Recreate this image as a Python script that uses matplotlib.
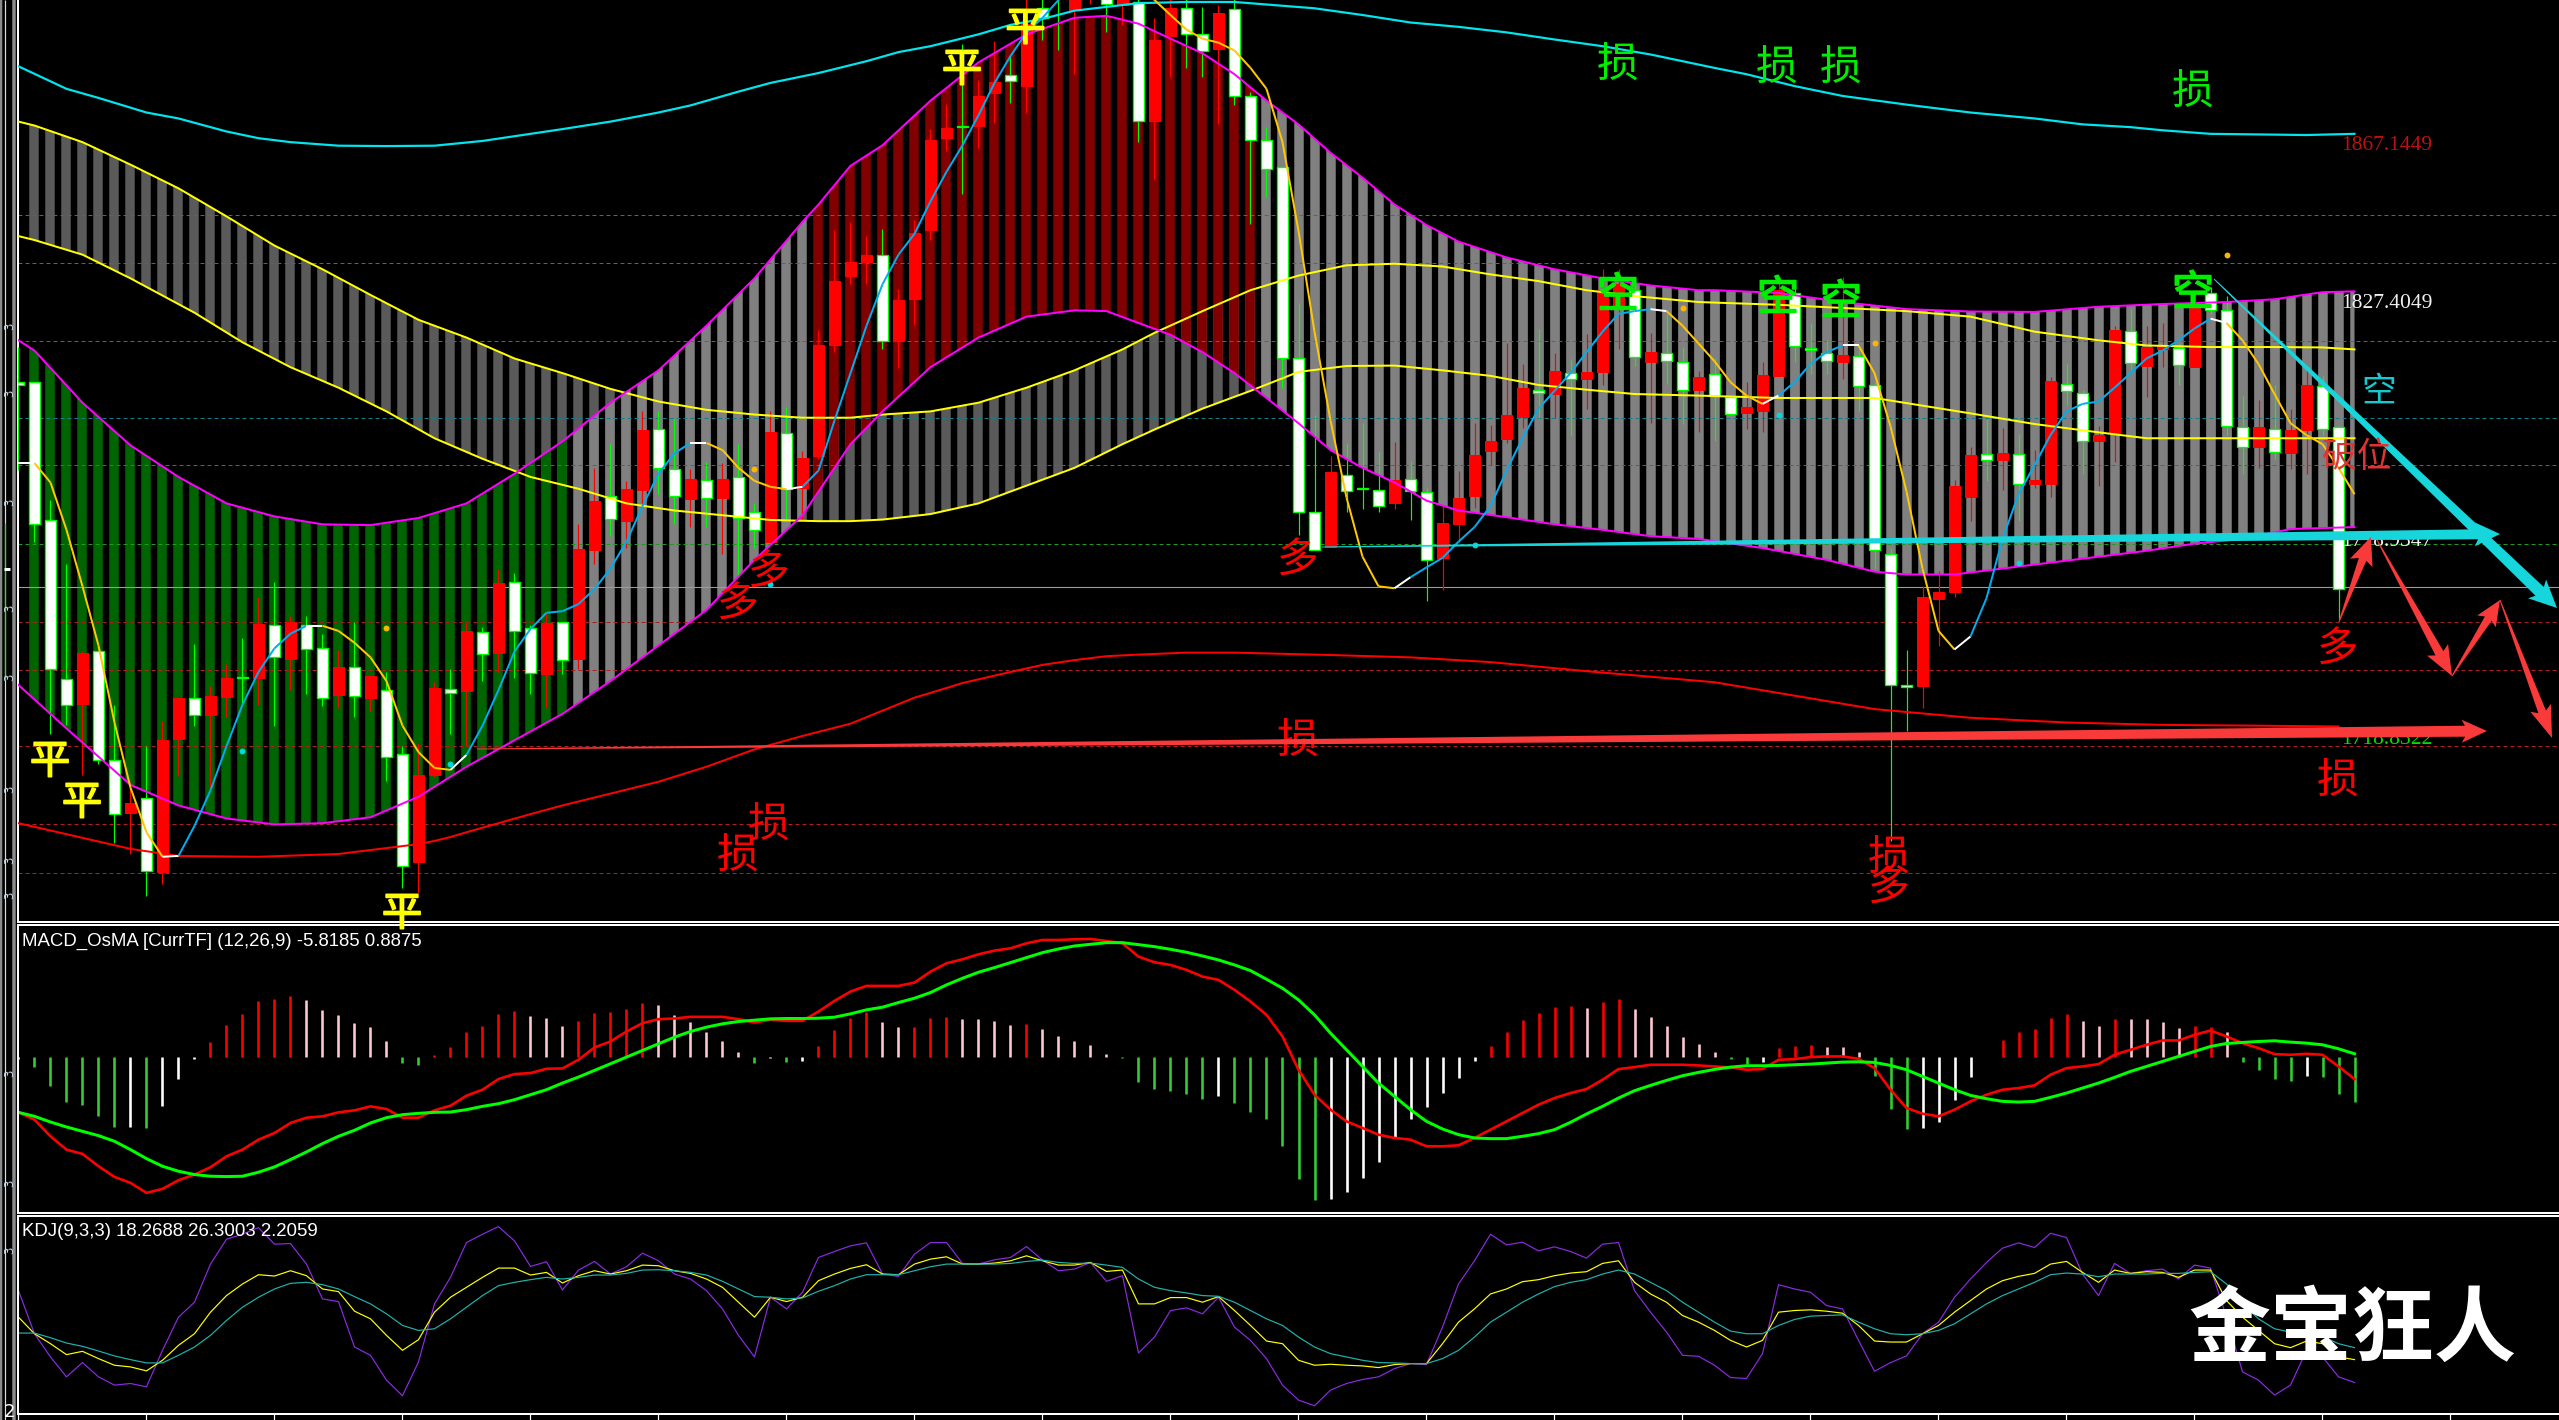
import numpy as np
import matplotlib
matplotlib.use("Agg")
import matplotlib.pyplot as plt
import matplotlib.patheffects as pe
from matplotlib.collections import LineCollection
from matplotlib.patches import Polygon

plt.rcParams['font.family'] = ['Noto Sans CJK SC', 'DejaVu Sans']

# ---------------- candles (bar -1 .. 144) ----------------
opens = [1804.2,1804.3,1769.3,1729.1,1722.7,1736,1708.4,1695.1,1698.8,1680.2,1713.8,1724.3,1720,1724.5,1729.6,1729.3,1742.8,1734,1742.8,1736.8,1725,1732.1,1724.2,1726.3,1709.9,1682.6,1704.8,1726.6,1726,1741,1735.6,1753.7,1742,1730.2,1743.5,1734,1761.8,1775.3,1769,1776.8,1792.4,1782.2,1774.7,1779.5,1774.9,1780.3,1771.3,1763.6,1791.4,1777.3,1785.5,1813.7,1831.1,1834.6,1836.4,1814.6,1825.3,1842.8,1866,1869,1869.2,1877.5,1882,1879.3,1899,1908,1898.5,1904,1903,1899.8,1900.5,1870.4,1892,1899,1892.5,1888.6,1898.8,1876.7,1865.5,1858.6,1810.4,1771.4,1762.4,1780.7,1777.4,1777,1773.7,1779.7,1776.5,1759.7,1768.3,1775.3,1786.7,1789.9,1795.3,1802.3,1801.3,1806.4,1805,1806.8,1823.6,1827.5,1809.2,1811.6,1809.4,1802.3,1806.2,1800.4,1796.3,1796.8,1805.8,1826.8,1812.8,1811.6,1809.4,1810.9,1803.4,1760.8,1727.6,1727.2,1749.4,1751,1775,1786,1784.5,1786.1,1778.5,1778.3,1803.8,1801.4,1789.4,1791.4,1817.2,1808.3,1812.5,1812.8,1808,1826.9,1822.4,1792.9,1787.8,1792.4,1786.3,1792,1803.2,1792.9]
closes = [1803.6,1768.4,1731.5,1722.4,1735.7,1708.4,1694.8,1697.5,1680.5,1713.5,1724.3,1719.8,1724.6,1729.4,1729.3,1742.9,1734.5,1743.5,1736.5,1724.3,1732.1,1724.6,1729.7,1709.3,1681.7,1704.8,1726.7,1725.5,1741.1,1735.4,1753.4,1741.3,1730.6,1743.2,1733.8,1762,1774.1,1769.6,1777.1,1792,1782.5,1775.3,1779.8,1774.9,1779.8,1769.8,1766.8,1791.5,1777.1,1784.9,1813.7,1829.8,1834.6,1836.5,1814.6,1825.1,1842,1865.6,1868.6,1868.8,1876.7,1880.3,1880.5,1895,1896.5,1902,1905,1912,1900.1,1904,1870.3,1890.8,1899,1892.5,1888,1897.7,1876.6,1865.5,1858.1,1810.4,1771.4,1761.8,1781.5,1776.7,1777.1,1772.9,1779.4,1776.7,1759.1,1768.6,1774.9,1785.7,1789.4,1796,1802.6,1801.4,1807,1805,1806.7,1827.5,1829,1810.6,1811.8,1809.5,1802.3,1805.6,1800.8,1796.2,1798,1805.9,1827.5,1813.3,1812.4,1809.5,1811,1803.2,1761.8,1727.5,1727,1749.8,1751,1778,1785.8,1784.6,1786.3,1778.5,1779.5,1804.4,1801.9,1789.3,1790.8,1817.3,1809,1813,1813.6,1808.5,1823,1822.6,1793,1787.9,1792.9,1786.4,1792.1,1803.5,1792.4,1751.8]
highs = [1813,1804.3,1774.3,1758.2,1736,1736,1722.5,1703,1712,1718.3,1724.3,1737.8,1727.3,1732.7,1739.3,1749.8,1753.7,1745,1745,1740.5,1736.3,1743.5,1730,1730.8,1712,1712.8,1728.2,1731.5,1743.5,1742.3,1757,1755.8,1742.8,1745.8,1743.5,1768.3,1782.5,1788.5,1779.2,1796.8,1796.8,1794.8,1782.2,1784,1783.7,1788.5,1773.5,1796.8,1797.8,1786.7,1817.3,1842.8,1844.8,1841.3,1843.1,1827.9,1845.2,1868.3,1874.6,1889.8,1880.8,1890.5,1887,1903,1903,1910,1910,1914,1905,1905,1906,1896.5,1903,1903,1899.2,1899.8,1902,1877.8,1868.8,1858.6,1824.2,1796,1785.5,1788.8,1793.8,1786.7,1789,1784.3,1777.3,1772.8,1781.8,1793.8,1793.3,1814,1808.8,1817.6,1811.5,1810,1816.3,1832.8,1832.8,1829,1816.6,1821.5,1813,1807,1810.3,1800.4,1804.3,1809.2,1830.5,1829,1819.3,1814.8,1830.8,1812.5,1804.3,1762.3,1736.3,1752.5,1756.3,1779.5,1787.8,1794.8,1792.7,1791.2,1787,1805.6,1808.8,1802.3,1793,1818.5,1822.7,1818.5,1819.3,1814,1827.5,1828.3,1826,1800.8,1799.8,1803.5,1797.5,1808,1805.8,1793]
lows = [1782,1763.8,1715,1717.3,1704.8,1707.5,1687.6,1684.7,1674,1677.2,1704.5,1717.1,1701.5,1719.5,1722.5,1722.5,1717.1,1726.3,1725.2,1722.2,1721.8,1719.5,1721,1703.3,1676,1674.8,1704.2,1715,1712,1728.5,1730.8,1729.3,1725.2,1721.6,1730.3,1731.5,1758.2,1765.3,1762.3,1772.8,1775.8,1768.3,1767.5,1767.5,1760.8,1754.8,1762.3,1763.6,1769,1769,1784.8,1811.8,1829,1829,1812.5,1807.7,1818.8,1840.3,1862.8,1851.8,1863.5,1869.8,1874.9,1872.5,1890.8,1888.3,1882.3,1900,1892.8,1894.7,1865,1855.7,1881.5,1883.8,1881.5,1869.5,1874.3,1844.3,1851,1802.8,1765.6,1761.8,1762.4,1771.3,1772,1771.3,1772,1769.3,1748.8,1751.5,1763.8,1772.3,1783.3,1788.8,1792.7,1795.1,1795.1,1790.6,1797.5,1803.5,1812.5,1808.3,1793.8,1803.8,1793.6,1791.5,1789.3,1796,1792.3,1791.5,1805.8,1809.2,1806.2,1806.2,1805,1796.8,1757,1688,1715.8,1721.8,1737.5,1749.8,1769,1779.2,1776.8,1769,1777.3,1775,1798.3,1781,1778,1784,1807.3,1800.5,1808,1803.5,1808,1821.5,1790.8,1781,1782.5,1784.8,1782.2,1781,1790.8,1744.3]

# ---------------- channel lines on the price scale ----------------
yellow_up_bars = [-1,0,3,6,9,12,15,18,21,24,27,30,33,36,39,42,45,48,51,53,56,59,62,65,68,70,73,76,79,82,85,88,91,94,97,100,104,109,113,117,121,125,129,132,136,140,143,145]
yellow_up = [1870.2,1869.2,1865,1859.3,1853.3,1846.2,1838.8,1832.8,1826.3,1820,1815.5,1810.2,1806.5,1802.5,1799.3,1797.2,1796,1795.2,1795.2,1796,1796.8,1799,1802.8,1807.2,1812.5,1816.7,1822.2,1827.5,1831.2,1833.8,1834.2,1833.5,1831.5,1829.8,1827.5,1826,1824.5,1823.8,1823,1822.2,1820.8,1817,1814.8,1813.5,1813.1,1813.1,1813,1812.5]
yellow_lo_bars = [-1,0,3,6,10,13,16,19,22,25,28,31,34,37,40,43,46,49,51,53,56,59,62,65,68,70,73,76,79,82,85,88,91,94,97,100,104,109,115,121,125,129,132,136,140,145]
yellow_lo = [1841.2,1840.2,1836.5,1830.5,1821.8,1814.3,1808,1802.8,1796.8,1790,1784.8,1780.2,1777.2,1773.5,1771.7,1770.5,1769.3,1769,1769,1769.4,1770.8,1773.5,1778,1782.5,1788.5,1792.2,1797.5,1802,1806.8,1808.3,1808.4,1807.2,1805.8,1803.5,1802.3,1801.2,1800.8,1800.2,1800.2,1796.3,1793.6,1791.5,1790,1790,1790,1790]
magenta_up_bars = [-1,0,3,6,9,12,15,18,21,24,27,30,33,36,39,42,45,48,49,51,53,56,59,62,65,67,69,71,73,75,77,79,81,83,85,87,89,92,95,98,101,104,105,109,113,117,121,125,129,133,137,140,143,145]
magenta_up = [1814.8,1812.2,1799,1788.2,1780.2,1773.5,1770.2,1768.2,1768,1769.8,1773.5,1781,1789.2,1799,1807.2,1818.5,1830.5,1844.8,1849.2,1859,1864.2,1875.5,1885.2,1892.3,1896.5,1897,1895,1891.2,1887.5,1882.2,1875.5,1869.5,1862.3,1856,1849.2,1844,1839.8,1835.8,1832.8,1830.5,1828.7,1827.5,1827.5,1826.8,1824.5,1822.7,1822.1,1822,1823.3,1824,1824.5,1825.2,1827,1827.2]
magenta_lo_bars = [-1,2,6,9,12,15,18,21,24,27,30,33,36,39,42,45,48,51,53,56,59,62,65,67,69,71,73,75,77,79,81,83,85,87,89,92,95,98,101,104,108,112,115,117,120,123,126,129,132,135,138,141,145]
magenta_lo = [1727.5,1716.5,1702.2,1697,1693.7,1692.2,1692.5,1694,1699.2,1706.8,1713.5,1720.2,1728.5,1737.5,1746.5,1759.2,1770.5,1788.5,1796.8,1808,1815.5,1820.8,1822.4,1822.2,1819.2,1816.2,1811.8,1806.5,1800.2,1793.8,1787,1782.5,1778.8,1774.2,1771.7,1770,1768.2,1766.8,1765.2,1764.5,1762.2,1759.2,1756.2,1755.5,1755.5,1757,1758.5,1760,1761.5,1763.3,1764.5,1767,1767.5]
red_ma_bars = [-1,6,9,14,19,24,25,26,27,29,31,33,36,39,42,45,48,51,53,55,56,58,61,63,65,67,69,72,75,81,86,91,97,105,110,115,121,127,133,139,144]
red_ma = [1692.5,1686,1684.2,1684,1684.7,1687.2,1688,1689,1690.2,1692.5,1694.8,1697,1700,1703,1706.8,1711.2,1714.6,1717.7,1721,1724.3,1725.5,1728,1730.8,1732.6,1733.8,1734.8,1735.2,1735.7,1735.7,1735.1,1734.5,1733.3,1731,1728.2,1724.8,1721.4,1719.2,1718,1717.4,1717.2,1717]
cyan_ma_bars = [-1,2,4,7,9,12,14,16,19,22,25,28,30,33,36,39,41,44,46,49,52,54,56,59,61,63,65,69,72,75,80,83,86,89,92,95,98,101,105,107,110,113,117,121,125,128,131,133,136,142,145]
cyan_ma = [1884.2,1878.5,1876.2,1872.5,1871,1867.7,1866,1865,1864.1,1864,1864.1,1865.3,1866.5,1868.3,1870.2,1872.5,1874.3,1877.8,1880,1882.5,1885.5,1887.8,1889.3,1892.3,1894.7,1896.2,1898.3,1900.2,1900.5,1900.5,1898.9,1897.2,1895.3,1894.2,1892.8,1891,1889.3,1887.2,1883.8,1882.2,1879.2,1876.7,1874.5,1872.5,1871,1869.5,1868.8,1868,1867.1,1866.8,1867.1]
# fast line, bar -1 .. 145
fast_ma = [1783.7,1783.7,1778.8,1766.8,1752.5,1737.5,1718,1701.5,1690.2,1684,1684.2,1691.8,1700.8,1712,1722.5,1730.8,1736.8,1740.5,1742.5,1742.5,1741.2,1738.2,1734.5,1728.5,1717.2,1710.5,1706.5,1706,1709.8,1717.2,1726.2,1736,1741.7,1745.8,1746.2,1748,1751.8,1757,1763.8,1772.8,1781,1786.2,1788.8,1788.8,1787,1782.5,1779.2,1777.7,1777.1,1777.7,1781.8,1794.5,1806.5,1818.5,1829,1836.5,1841.8,1850,1857.5,1864.2,1871.8,1880,1886.8,1892.8,1896.5,1901,1904,1907,1908.5,1907,1904,1901,1897.2,1893.5,1891.2,1890.2,1888.2,1883.8,1878.5,1865,1842.5,1817,1794.5,1775,1760,1752.5,1752,1754.8,1757.3,1759.7,1763.8,1767.5,1772.8,1781.8,1790,1797.5,1802,1806.5,1811.8,1817,1821.5,1822.2,1822.7,1822.2,1818.5,1814,1809.5,1804.2,1800.8,1798.7,1800.8,1804.2,1808.8,1811.8,1813.5,1813.5,1806.5,1793,1776.5,1757,1741.2,1736.5,1739.8,1749.5,1764.5,1775.8,1783.2,1790.8,1796.8,1798.7,1799.3,1802.8,1806.5,1810.2,1812.2,1814.8,1817.8,1820.3,1819.2,1814.8,1808.8,1801.2,1793.8,1790.8,1788.5,1782.5,1775.8]
orange_dot_bars = [22,45,103,115,137]
orange_dots = [1742,1782.2,1823,1814,1836.5]
cyan_dot_bars = [13,26,46,90,109,124]
cyan_dots = [1710.8,1707.5,1753.2,1763,1796,1758.5]
grid_levels = [1846.5,1834.4,1814.6,1795.2,1783.1,1763.3,1743.5,1731.4,1712,1692.2,1680]
grid_colors = ['#1a7f7f','#1a7f7f','#1a7f7f','#117f8a','#117f8a','#1f9a1f','#a02020','#b02020','#b02020','#b02020','#b02020']
bid_level = 1752.2

# ---------------- MACD panel ----------------
osma = [-0.5,-2.8,-8.7,-13.5,-14.2,-17.7,-20.9,-20.9,-21.3,-14.5,-6.4,-0.6,4.7,9.8,13.1,17,17.6,18.5,17.3,14.3,12.8,10.4,9.2,5,-1.6,-2.4,0.8,3.2,7.5,9.5,13.1,14,12.5,11.9,9.5,11,13.4,13.8,14.6,16.4,15.8,12.8,10.7,7.6,5,1.7,-1.6,-0.2,-1.3,-1,3.5,8.3,11.9,13.7,10.7,9.2,9.2,11.8,12.2,11.7,11.7,11,9.8,10.1,8.6,6.5,5,3.8,1.1,-0.3,-7.3,-9.4,-10,-10.9,-12.4,-11.5,-13.6,-16.3,-18.4,-26.5,-36.4,-42.7,-42.4,-40.3,-36.1,-31.3,-24.1,-18.4,-14.8,-10.6,-6.1,-1,3.5,7.7,11.3,13.4,15.2,15.5,14.9,16.7,17.6,14.6,12.2,9.5,6.2,4.1,1.7,-0.5,-1.9,-1.3,2.9,3.5,3.8,3.2,3.2,1.7,-5.7,-15.4,-21.4,-21.1,-19.3,-12.7,-5.8,0.2,5.3,7.7,8.6,11.9,13.1,11,9.5,11.6,11.6,11.6,10.7,8.9,9.5,9.2,7.7,-1.3,-3.7,-6.4,-7,-5.5,-5.8,-10.9,-13.5]
osma_kind = "w" + "gggggg" "w" "g" "www" "rrrrrr" "pppppp" "gg" "rrrrrr" "ppp" "rrrrr" "pppppp" "g" "w" "g" "w" "rrrr" "pp" "rrr" "pppp" "r" "ppppp" "gggggg" "w" "ggg" "ggg" "wwwwwwwwww" "rrrrrr" "p" "rr" "pppppp" "gg" "w" "rrr" "ppp" "ggg" "wwww" "rrrrrr" "pp" "r" "pppp" "rr" "p" "gggg" "w" "ggg"
macd = [-16.5,-18.7,-23.7,-27.7,-29,-32.7,-35.9,-37.7,-40.7,-39.5,-36.9,-35.2,-33,-29.7,-27.7,-24.7,-22.7,-19.7,-18.1,-17.7,-16.5,-15.9,-14.7,-15.5,-18.1,-18.1,-15.9,-14.5,-11.5,-9.7,-6.5,-5,-4.7,-3.4,-3.3,-0.7,3,4.8,7.8,10.3,11.5,11.7,12.2,12.2,12.2,11.5,10.5,11.3,11,11,13.8,17,19.8,21.5,21.5,21.5,22.5,25.8,28.3,29.5,31,32.1,32.8,34.3,35.3,35.3,35.5,35.6,35,34.3,30.3,28.6,27.8,26.3,24.3,23.3,20.3,16.8,12.8,6.3,-3.7,-11.2,-15.7,-19.2,-21.2,-23.2,-24.2,-24.7,-26.7,-26.7,-26.4,-24.2,-21.7,-19.2,-16.7,-14.2,-12.2,-10.7,-9.5,-6.7,-3.5,-2.9,-2.2,-2.2,-2.2,-2.4,-2.7,-3,-3.7,-3.5,-0.7,-0.5,0.1,0.3,0.3,-0.4,-3.2,-9.7,-15.2,-16.9,-17.7,-15.7,-13.2,-11.2,-9.7,-9.2,-8.4,-5.2,-3.2,-2.7,-2,0.8,2.3,3.8,5.1,5.1,6.8,8.1,6.3,4.3,2.8,1,0.8,1.1,0.8,-2.7,-6.5]
signal = [-16.5,-17.7,-19.4,-20.9,-22.2,-23.5,-25.2,-27.7,-30.4,-32.7,-34.2,-35.2,-35.7,-35.8,-35.7,-34.5,-32.9,-30.7,-28.4,-25.9,-23.7,-21.9,-19.7,-18.1,-17.2,-16.8,-16.5,-16.4,-15.7,-14.7,-13.9,-12.7,-11.2,-9.7,-7.7,-5.9,-3.9,-1.9,0.1,2.1,4.1,6.1,7.8,9.1,10.1,10.8,11.2,11.6,11.7,11.7,11.8,12.1,13.1,14.3,15.1,16.5,17.8,19.5,21.8,23.8,25.6,27,28.5,30,31.5,32.6,33.5,34,34.5,34.5,33.9,33.3,32.5,31.6,30.5,29.3,27.8,26.1,23.5,20.8,17.3,12.8,7.3,2.3,-2.7,-7.7,-11.7,-15.7,-19.2,-21.5,-23.2,-24.2,-24.4,-24.4,-23.7,-22.9,-21.7,-19.5,-17,-14.7,-12.2,-10,-8.4,-6.9,-5.5,-4.5,-3.6,-2.9,-2.5,-2.5,-2.4,-2.2,-2,-1.7,-1.4,-1.3,-1.5,-2.4,-3.7,-5.7,-7.7,-9.7,-11.4,-12.4,-13.2,-13.4,-13.2,-12,-10.7,-9.2,-7.7,-6,-4.2,-2.7,-1.2,0.3,1.8,3.3,4.2,4.5,4.8,5,4.6,4.3,3.8,2.6,1.1]

# ---------------- KDJ panel ----------------
kdj_j = [58,32,18,6,14.6,6,1,2,0,22,42,51,74,89,92,96,86,86.4,74,53,51.4,24,19,4,-5.4,15,50,66,87,92,96.6,88,72.6,75.4,58.4,70.4,75.6,68,72.4,80.6,76,68,65,58,47,31,18,54,47,57,78,81.6,85,86.8,68,66.6,80,87,87,74.4,74,76.6,78,84.6,76.4,70,71,75,63.6,67,20.4,30,46,47.6,44,54,36,28,17,1,-8,-11.4,-2,2,4.4,6,11,14,13.4,36,62,76,92,85.6,87.2,82,84.4,81.6,77.6,86,87,58,45,33,19,18.4,13,5.6,5,20,61.6,59,57,49,47,28,9.4,14.6,18.6,32,39,54,65,75,83.6,86.8,84,92.6,90,68,55,74.4,68.4,70,71,65,73.4,71.6,42,9,4,-5,1,22,18,6,2.6]
kdj_k = [42,32,26,19.4,21.4,17,13,12,9.6,16,25,32,45,55,62,67.6,66.8,70,67,59,57.4,45.6,41,31,22,28.4,45,54,60,66,71.6,71.6,67.4,69,62.6,67,70,68,70,73.4,73,70,68.4,65,60,51,42,54,51.4,54,64,68,71.4,73.6,68,67.6,74,77,78.4,74,74,74.6,76,79,76,73.4,73.4,75,69.6,70.4,50,50,53.8,53.8,51,54.4,46,37,27.6,26,16,13,13.6,13,12.6,11.6,13.4,14,14,26,39,47,56,59,63.4,64.6,67,68.6,69.4,74.4,76,63,56,51,43,39,34,28,24,28,45,46,46.4,45.6,44.4,37,27.6,27,27,32,37,45,52,59,64,66.6,68.4,74,75.6,69,63,70.4,68.4,69.4,69,66,70.4,70.4,52,42,34,26,23.6,27.6,26,18,16.4]
kdj_d = [32.4,32.4,29.6,26.4,24.4,21.6,18.6,16.4,14.4,14.4,19,24,31,40,48,54,59,62.4,63,61.6,59,54.4,50,44,37,34,35,41,48,55,61,63,64.6,66,65,66,67.4,67.4,68.4,70.4,70.6,70,69,67.4,63.6,59,54.4,54,53,53.6,57.6,61,65,67.6,67.6,67.6,70,72.4,74,74,74,74,74.4,75.6,76.4,75,74.4,74.6,73.4,72,65,60,58,56.6,55,54.6,51,46,41,37,30,24,20,18,16,14.6,14.4,14,14,17,22,30,39,45,51,56,60.4,63,64.6,68,70.4,68,63,58,51,45,39,33.6,32,32,37,40.6,42.6,43,43.4,39,35,32,31.4,32,34,38,44,50,55,59,63,67.6,68.6,68,66.4,68,68,68,68.4,68.4,69,69.4,62,50,41,35,33,33.6,30.4,26,23.6]

W, H = 2559, 1420
fig = plt.figure(figsize=(W / 100, H / 100), dpi=100, facecolor='black')
PX = 0.72


def panel(top, bottom, sides):
    a = fig.add_axes([18 / W, 1 - bottom / H, (W - 18) / W, (bottom - top) / H], facecolor='black')
    a.set_xlim(-1.03, 157.78)
    a.set_xticks([])
    a.set_yticks([])
    for name, s in a.spines.items():
        s.set_visible(name in sides)
        s.set_color('white')
        s.set_linewidth(2 * PX)
    return a


ax = panel(0, 921.5, ('left', 'bottom'))
ax.set_ylim(1667.6, 1901)
ax_m = panel(925, 1212.5, ('left', 'top', 'bottom'))
ax_m.set_ylim(-46.6, 39.8)
ax_k = panel(1216, 1414, ('left', 'top', 'bottom'))
ax_k.set_ylim(-16.4, 103)

# ---- stripes clipped to the two channels
stripe_x = np.arange(0, 146)
lo, hi = ax.get_ylim()


def stripes(colors, up_x, up, low_x, low, z):
    lc = ax.vlines(stripe_x, lo, hi, colors=colors, linewidth=9.5 * PX, zorder=z)
    lc.set_capstyle('butt')
    poly = np.column_stack([list(up_x) + list(low_x)[::-1], list(up) + list(low)[::-1]])
    lc.set_clip_path(Polygon(poly, closed=True, transform=ax.transData))


stripes(['#5a5a5a'] * len(stripe_x), yellow_up_bars, yellow_up, yellow_lo_bars, yellow_lo, 1)
band_colors = []
for b in stripe_x:
    if b <= 33:
        band_colors.append('#006400')
    elif 49 <= b <= 76:
        band_colors.append('#800000')
    else:
        band_colors.append('#808080')
stripes(band_colors, magenta_up_bars, magenta_up, magenta_lo_bars, magenta_lo, 1.5)

for lv, c in zip(grid_levels, grid_colors):
    ax.axhline(lv, color=c, lw=1 * PX, ls=(0, (4, 3)), zorder=2)
ax.axhline(bid_level, color='#9a9aa8', lw=1.1 * PX, zorder=2)

# ---- candles
bar_x = np.arange(len(opens)) - 1
o, c, h, l = map(np.array, (opens, closes, highs, lows))
down = c < o
ax.vlines(bar_x[down], l[down], h[down], colors='#00ff00', lw=1.2 * PX, zorder=3)
ax.vlines(bar_x[~down], l[~down], h[~down], colors='#ff0000', lw=1.2 * PX, zorder=3)
ax.bar(bar_x[down], (o - c)[down], bottom=c[down], width=0.64, color='white', edgecolor='#00ff00', linewidth=1.3 * PX, zorder=4)
ax.bar(bar_x[~down], (c - o)[~down], bottom=o[~down], width=0.66, color='#ff0000', edgecolor='#ff0000', linewidth=1 * PX, zorder=4)

# ---- channel and trend lines
ax.plot(yellow_up_bars, yellow_up, color='#ffff00', lw=2 * PX, zorder=5)
ax.plot(yellow_lo_bars, yellow_lo, color='#ffff00', lw=2 * PX, zorder=5)
ax.plot(magenta_up_bars, magenta_up, color='#ff00ff', lw=2 * PX, zorder=5)
ax.plot(magenta_lo_bars, magenta_lo, color='#ff00ff', lw=2 * PX, zorder=5)
ax.plot(cyan_ma_bars, cyan_ma, color='#00e5ee', lw=2.2 * PX, zorder=5)
ax.plot(red_ma_bars, red_ma, color='#ff0000', lw=2.0 * PX, zorder=5)

fast_x = np.arange(len(fast_ma)) - 1
segs, seg_cols = [], []
prev = 0
for i in range(len(fast_ma) - 1):
    d = fast_ma[i + 1] - fast_ma[i]
    s = np.sign(d)
    segs.append([(fast_x[i], fast_ma[i]), (fast_x[i + 1], fast_ma[i + 1])])
    if s == 0 or (prev != 0 and s != prev):
        seg_cols.append('#ffffff')
    else:
        seg_cols.append('#00aeef' if s > 0 else '#ffc800')
    prev = s
ax.add_collection(LineCollection(segs, colors=seg_cols, linewidths=2 * PX, zorder=6))
ax.scatter(orange_dot_bars, orange_dots, s=18, color='#ffb400', zorder=6, linewidths=0)
ax.scatter(cyan_dot_bars, cyan_dots, s=18, color='#00d8e0', zorder=6, linewidths=0)

# ---- MACD
osma_x = np.arange(len(osma)) - 1
kind_col = {'g': '#32cd32', 'w': '#ffffff', 'r': '#ff0000', 'p': '#ffc8d0'}
ax_m.vlines(osma_x, 0, osma, colors=[kind_col[k] for k in osma_kind[:len(osma)]], lw=2.6 * PX)
ax_m.plot(np.arange(len(macd)) - 1, macd, color='#ff0000', lw=2.6 * PX)
ax_m.plot(np.arange(len(signal)) - 1, signal, color='#00ff00', lw=3 * PX)

# ---- KDJ
ax_k.plot(np.arange(len(kdj_j)) - 1, kdj_j, color='#8a2be2', lw=1.2 * PX)
ax_k.plot(np.arange(len(kdj_k)) - 1, kdj_k, color='#ffff00', lw=1.2 * PX)
ax_k.plot(np.arange(len(kdj_d)) - 1, kdj_d, color='#20b2aa', lw=1.2 * PX)

# ---- overlay in picture pixels for drawn annotations
ov = fig.add_axes([0, 0, 1, 1], facecolor='none', zorder=10)
ov.set_xlim(0, W)
ov.set_ylim(H, 0)
ov.axis('off')

# left scale strip
for xp, col, lw in [(1, '#8a8a8a', 2.5), (5, '#dddddd', 1.2), (13.5, '#8a8a8a', 3.5)]:
    ov.vlines(xp, 0, H, colors=col, lw=lw * PX)
for yp in [326, 393, 502, 608, 677, 789, 860, 895, 1073, 1183, 1250]:
    ov.text(10, yp, "3", color='#c8d8e8', fontsize=8.5, rotation=90, ha='center', va='center', family='DejaVu Sans')
ov.vlines(5, 523, 680, colors='#00ff00', lw=1.2 * PX)
ov.hlines(569, 4, 10, colors='white', lw=3 * PX)
ov.text(9, 1412, "2", color='white', fontsize=13, ha='center', va='center', family='DejaVu Sans')
# bottom ticks
for xt in [18, 146, 274, 402, 530, 658, 786, 914, 1042, 1170, 1298, 1426, 1554, 1682, 1810, 1938, 2066, 2194, 2322, 2450]:
    ov.vlines(xt, 1414, 1420, colors='white', lw=1.2 * PX)

cjk = dict(ha='center', va='center', family=['Noto Sans CJK SC', 'DejaVu Sans'])
thick_y = [pe.withStroke(linewidth=1.2, foreground='#ffff00')]
thick_g = [pe.withStroke(linewidth=1.2, foreground='#00ee00')]
for xp, yp in [(50, 762), (82, 803), (402, 914), (962, 70), (1025.5, 29)]:
    ov.text(xp, yp, "平", color='#ffff00', fontsize=29, path_effects=thick_y, **cjk)
for xp, yp in [(1618, 66), (1777, 69), (1841, 69), (2193, 93)]:
    ov.text(xp, yp, "损", color='#00ee00', fontsize=30, **cjk)
for xp, yp in [(1618, 296), (1778, 299), (1841, 303), (2193, 294)]:
    ov.text(xp, yp, "空", color='#00ee00', fontsize=30, path_effects=thick_g, **cjk)
for xp, yp in [(738, 857), (769, 826), (1298, 742), (1889, 859), (2338, 782)]:
    ov.text(xp, yp, "损", color='#ff0000', fontsize=30, **cjk)
for xp, yp in [(738, 604), (769, 572), (1298, 560), (2338, 649), (1889, 888)]:
    ov.text(xp, yp, "多", color='#ff0000', fontsize=30, **cjk)

serif = dict(ha='center', va='center', family='Liberation Serif', fontsize=15.5)
ov.text(2387, 145, "1867.1449", color='#c01010', **serif)
ov.text(2387, 304, "1827.4049", color='#f0f0f0', **serif)
ov.text(2387, 541, "1778.9347", color='#f0f0f0', **serif)
ov.text(2387, 740, "1718.8322", color='#00e000', **serif)


def arrow(x0, y0, x1, y1, w0, w1, hl, hw, col, z=11):
    p0, p1 = np.array([x0, y0], float), np.array([x1, y1], float)
    d = (p1 - p0) / np.hypot(*(p1 - p0))
    n = np.array([-d[1], d[0]])
    base = p1 - d * hl
    wing = p1 - d * hl * 1.15
    pts = [p0 + n * w0 / 2, base + n * w1 / 2, wing + n * hw / 2, p1,
           wing - n * hw / 2, base - n * w1 / 2, p0 - n * w0 / 2]
    ov.add_patch(Polygon(pts, closed=True, facecolor=col, edgecolor='none', zorder=z))


CY, RD = '#16d6dc', '#f83a3a'
arrow(477, 749, 2487, 731, 1, 11, 22, 23, RD)
arrow(1322, 547, 2500, 534, 1, 10, 22, 24, CY)
arrow(2214, 279, 2557, 608, 1, 12, 24, 26, CY)
arrow(2339, 622, 2371, 537, 1, 8, 24, 24, RD)
arrow(2377, 540, 2452, 676, 1, 9, 26, 24, RD)
arrow(2452, 676, 2500, 600, 1, 8, 22, 22, RD)
arrow(2500, 600, 2552, 738, 1, 8, 28, 22, RD)

ov.text(2379, 392, "空", color='#16c8cf', fontsize=25, zorder=12, **cjk)
ov.text(2357, 457, "破位", color='#e03434', fontsize=25, zorder=12, **cjk)

hdr = dict(color='white', ha='left', va='center', family='Liberation Sans', fontsize=13.4)
ov.text(22, 941, "MACD_OsMA [CurrTF] (12,26,9) -5.8185 0.8875", **hdr)
ov.text(22, 1232, "KDJ(9,3,3) 18.2688 26.3003 2.2059", **hdr)
ov.text(2352, 1331, "金宝狂人", color='white', fontsize=59, fontweight='bold', zorder=13, **cjk)

fig.savefig('out.png', dpi=100, facecolor='black')
